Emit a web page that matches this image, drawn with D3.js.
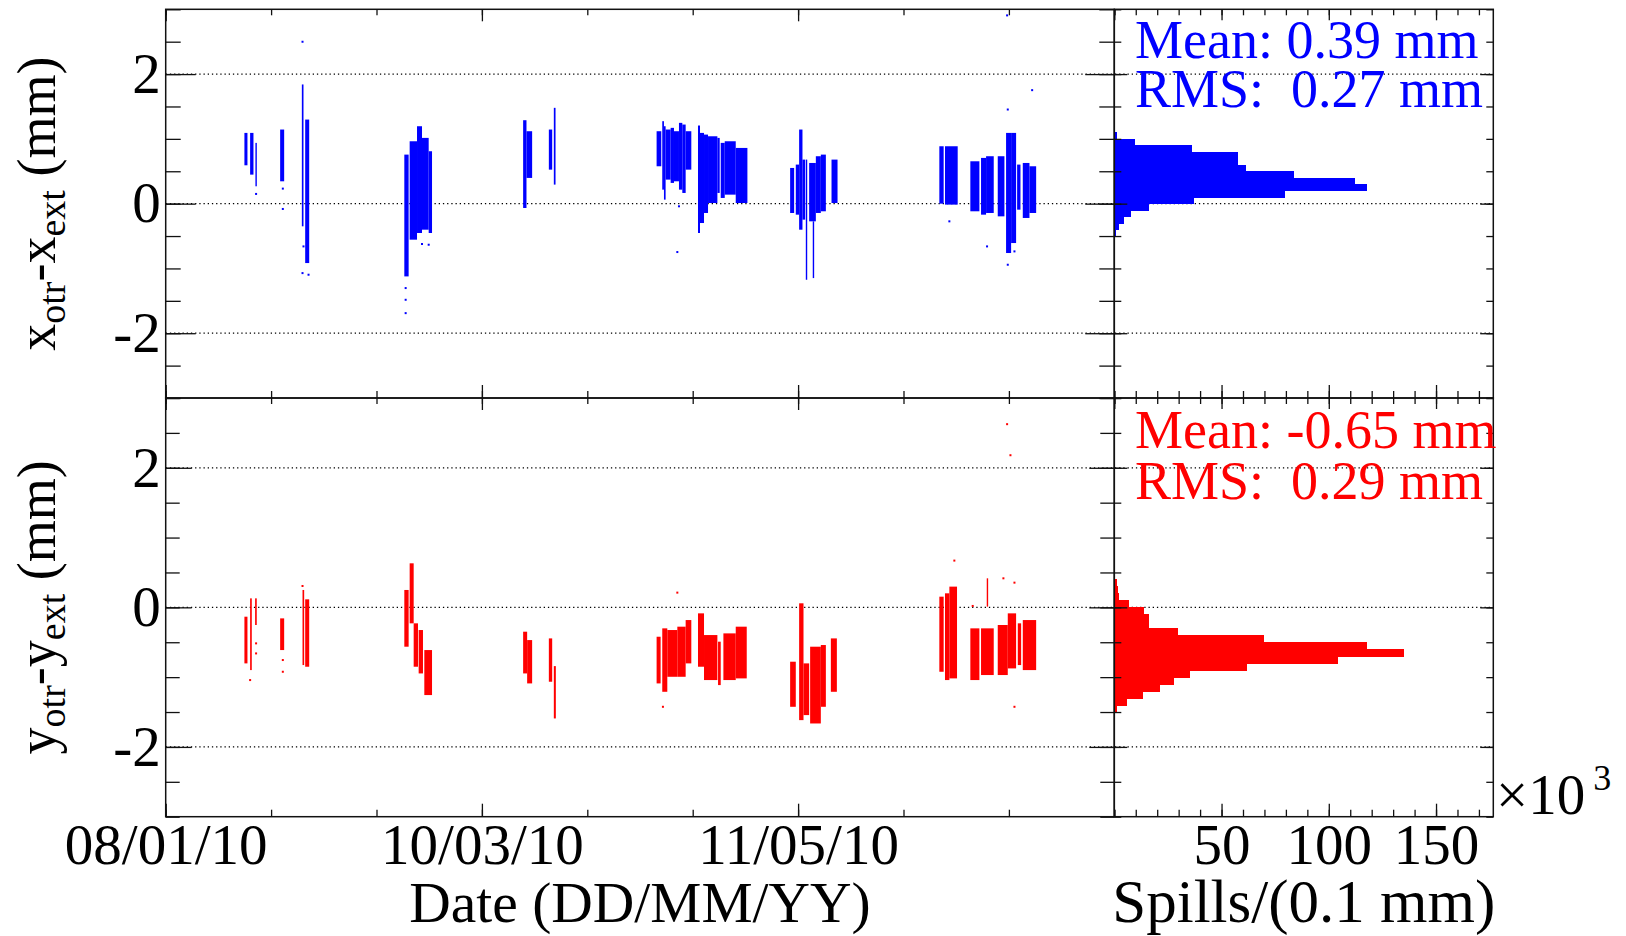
<!DOCTYPE html>
<html>
<head>
<meta charset="utf-8">
<script src="https://cdn.jsdelivr.net/npm/d3@7"></script>
<style>
  body { margin: 0; background: #fff; }
  text { font-family: "Liberation Serif", "Times New Roman", serif; }
</style>
</head>
<body>
<script>
// days are day-of-year 2010 (01/01/10 00:00 = 0), offsets in mm
// runs: [first day, last day, low, high]
var blueRuns = [
  [22.31, 22.90, 0.592, 1.092], [23.42, 24.07, 0.448, 1.092], [24.45, 24.71, 0.268, 0.938],
  [29.26, 30.04, 0.345, 1.144], [33.48, 33.80, -0.35, 1.84], [34.13, 34.91, -0.917, 1.298],
  [53.41, 54.25, -1.123, 0.757], [54.45, 55.88, -0.556, 0.963], [55.88, 56.85, -0.453, 1.195],
  [56.85, 58.15, -0.402, 1.015], [58.15, 58.80, -0.453, 0.809],
  [76.52, 77.17, -0.067, 1.288], [77.17, 78.27, 0.397, 1.118],
  [81.52, 82.17, 0.525, 1.144], [82.49, 82.82, 0.294, 1.479],
  [102.48, 103.39, 0.577, 1.118], [103.58, 103.91, 0.216, 1.273], [103.91, 104.23, 0.062, 1.195],
  [104.23, 105.21, 0.371, 1.144], [105.21, 105.86, 0.32, 1.17], [105.86, 106.83, 0.345, 1.118],
  [106.83, 107.48, 0.216, 1.247], [107.48, 108.13, 0.165, 1.221], [108.13, 109.23, 0.525, 1.118],
  [110.53, 110.92, -0.453, 1.206], [110.92, 111.70, -0.299, 1.092], [111.70, 112.48, -0.144, 1.066],
  [112.48, 114.30, 0.010, 1.04], [114.30, 114.75, 0.165, 1.015], [114.95, 115.73, 0.088, 0.938],
  [115.73, 117.87, 0.139, 0.963], [117.87, 120.14, 0.010, 0.86],
  [128.45, 129.23, -0.144, 0.551], [129.55, 130.20, -0.17, 0.603], [130.20, 130.85, -0.402, 1.144],
  [130.85, 131.37, -0.247, 0.68], [131.50, 131.70, -1.175, 0.68], [132.15, 133.45, -0.273, 0.628],
  [132.85, 133.05, -1.149, -0.273], [133.45, 134.42, -0.144, 0.732], [134.42, 135.40, -0.118, 0.757],
  [136.50, 137.67, 0.010, 0.68],
  [157.47, 158.31, 0.0, 0.886], [158.57, 161.04, -0.015, 0.886],
  [163.50, 165.26, -0.118, 0.654], [165.58, 166.56, -0.17, 0.706], [166.56, 168.05, -0.144, 0.732],
  [168.83, 170.13, -0.196, 0.732], [170.45, 171.43, -0.762, 1.092], [171.43, 172.40, -0.608, 1.092],
  [172.60, 173.25, -0.093, 0.603], [173.70, 175.00, -0.221, 0.628], [175.00, 176.30, -0.144, 0.577]
];
var bluePoints = [
  [33.61, 2.499], [24.58, 0.15], [29.78, 0.232], [29.78, -0.082], [34.78, -1.097], [33.61, -1.072],
  [33.80, -0.66], [53.67, -1.303], [53.67, -1.484], [53.67, -1.69], [58.15, -0.634], [56.85, -0.623],
  [106.51, -0.747], [106.83, -0.041], [175.52, 1.752], [166.75, -0.66], [170.65, 2.906],
  [170.78, 1.453], [170.78, -0.943], [172.08, -0.737], [159.42, -0.273]
];
var redRuns = [
  [22.31, 22.90, -0.803, -0.134], [23.42, 23.74, -0.899, 0.129], [24.39, 24.71, -0.253, 0.129],
  [29.26, 30.04, -0.612, -0.158], [33.61, 33.93, -0.827, 0.249], [34.13, 34.91, -0.851, 0.115],
  [53.41, 54.25, -0.564, 0.249], [54.45, 55.23, -0.229, 0.631], [55.23, 56.07, -0.851, -0.229],
  [56.20, 57.04, -0.947, -0.325], [57.30, 58.80, -1.257, -0.612],
  [76.52, 77.30, -0.947, -0.349], [77.30, 78.27, -1.09, -0.469],
  [81.52, 82.17, -1.066, -0.445], [82.49, 82.88, -1.592, -0.842],
  [102.48, 103.26, -1.09, -0.421], [103.58, 104.56, -1.21, -0.301], [104.56, 106.51, -0.995, -0.325],
  [106.51, 108.13, -0.995, -0.277], [108.13, 109.23, -0.803, -0.182],
  [110.53, 111.70, -0.851, -0.086], [111.70, 114.30, -1.042, -0.397], [114.43, 114.95, -1.114, -0.492],
  [115.47, 117.87, -1.042, -0.373], [117.87, 120.01, -1.018, -0.277],
  [128.45, 129.55, -1.425, -0.779], [130.20, 131.05, -1.616, 0.058], [131.05, 132.15, -1.544, -0.803],
  [132.34, 134.42, -1.664, -0.564], [134.42, 135.40, -1.425, -0.54], [136.37, 137.54, -1.21, -0.445],
  [157.47, 158.31, -0.923, 0.153], [158.57, 159.42, -1.042, 0.201], [159.42, 160.91, -1.018, 0.297],
  [163.50, 165.26, -1.042, -0.301], [165.58, 168.05, -0.97, -0.301], [166.69, 166.88, 0.01, 0.416],
  [168.83, 170.78, -0.97, -0.253], [170.78, 172.40, -0.875, -0.086], [172.73, 173.38, -0.827, -0.229],
  [173.70, 176.30, -0.899, -0.182]
];
var redPoints = [
  [106.51, 0.211], [103.71, -1.425], [160.39, 0.67], [170.65, 2.625], [171.30, 2.18],
  [172.08, -1.425], [169.93, 0.416], [172.08, 0.354], [163.96, 0.02], [23.42, -1.042],
  [24.58, -0.516], [24.58, -0.66], [29.78, -0.755], [29.78, -0.923], [33.61, 0.306]
];

// histograms, 0.1 mm bins: lower bin edge and spills (x10^3)
var xHistLow = [-0.5, -0.4, -0.3, -0.2, -0.1, 0.0, 0.1, 0.2, 0.3, 0.4, 0.5, 0.6, 0.7, 0.8, 0.9, 1.0];
var xHistCounts = [0.9, 2.0, 4.7, 7.8, 16.3, 37.0, 79.4, 117.7, 112.0, 83.6, 61.4, 57.9, 57.9, 36.2, 9.5, 1.2];
var yHistLow = [-1.5, -1.4, -1.3, -1.2, -1.1, -1.0, -0.9, -0.8, -0.7, -0.6, -0.5, -0.4, -0.3, -0.2, -0.1, 0.0, 0.1, 0.2, 0.3];
var yHistCounts = [1.2, 5.9, 13.4, 21.1, 27.8, 35.1, 61.8, 104.2, 135.1, 117.7, 69.6, 29.5, 16.0, 16.0, 13.7, 7.0, 2.2, 1.8, 1.2];

var dateTickDays = [7, 27.5, 48, 68.5, 89, 109.5, 130, 150.5, 171, 191.5];
var dateLabelDays = [7, 68.5, 130];
var statsX = ["Mean: 0.39 mm", "RMS:  0.27 mm"];
var statsY = ["Mean: -0.65 mm", "RMS:  0.29 mm"];

var svgWidth = 1626, svgHeight = 936;
var left = 165.7, mid = 1114.3, right = 1493.3;
var fs = 54, tickFs = 57;

var svg = d3.select("body").append("svg")
  .attr("width", svgWidth).attr("height", svgHeight)
  .style("background", "#fff");

var t0 = Date.UTC(2010, 0, 1);
function day(d) { return new Date(t0 + d * 864e5); }

var x = d3.scaleUtc().domain([day(7), day(191.5)]).range([left, mid]);
var xh = d3.scaleLinear().domain([0, 176.7]).range([mid, right]);
var fmt = d3.utcFormat("%d/%m/%y");

var panels = [
  { top: 9.3, bottom: 398, runs: blueRuns, points: bluePoints, color: "#0000ff",
    low: xHistLow, counts: xHistCounts, stats: statsX, statY: [58, 107],
    title: ["x", "otr", "-x", "ext"], labels: false, majorLen: 30, minorLen: 15 },
  { top: 398, bottom: 816.7, runs: redRuns, points: redPoints, color: "#ff0000",
    low: yHistLow, counts: yHistCounts, stats: statsY, statY: [448, 499],
    title: ["y", "otr", "-y", "ext"], labels: true, majorLen: 26, minorLen: 14 }
];

var minorY = d3.range(-3, 3.01, 0.5);
var majorY = [-2, 0, 2];

function styleAxis(g) {
  g.select(".domain").remove();
  g.selectAll("line").attr("stroke", "#111").attr("stroke-width", 1.3);
  g.selectAll("text").attr("font-size", tickFs).attr("fill", "#000")
    .attr("font-family", "'Liberation Serif', 'Times New Roman', serif");
}

panels.forEach(function(p, idx) {
  var y = d3.scaleLinear().domain([-3, 3]).range([p.bottom, p.top]);
  var clipId = "clip" + idx;
  svg.append("clipPath").attr("id", clipId).append("rect")
    .attr("x", left).attr("y", p.top).attr("width", mid - left).attr("height", p.bottom - p.top);

  // dotted grid at major y ticks
  svg.append("g").selectAll("line").data(majorY).join("line")
    .attr("x1", left).attr("x2", right)
    .attr("y1", d => y(d)).attr("y2", d => y(d))
    .attr("stroke", "#000").attr("stroke-width", 1.2)
    .attr("stroke-dasharray", "1.3,2.9");

  // scatter runs and isolated spills
  var sg = svg.append("g").attr("clip-path", "url(#" + clipId + ")");
  sg.selectAll("rect.run").data(p.runs).join("rect").attr("class", "run")
    .attr("x", d => x(day(d[0])))
    .attr("width", d => Math.max(1.4, x(day(d[1])) - x(day(d[0]))))
    .attr("y", d => y(d[3]))
    .attr("height", d => y(d[2]) - y(d[3]))
    .attr("fill", p.color);
  sg.selectAll("rect.pt").data(p.points).join("rect").attr("class", "pt")
    .attr("x", d => x(day(d[0])) - 1).attr("y", d => y(d[1]) - 1)
    .attr("width", 2).attr("height", 2).attr("fill", p.color);

  // histogram
  svg.append("g").attr("shape-rendering", "crispEdges")
    .selectAll("rect").data(p.counts).join("rect")
    .attr("x", xh(0))
    .attr("width", d => xh(d) - xh(0))
    .attr("y", (d, i) => y(p.low[i] + 0.1))
    .attr("height", (d, i) => y(p.low[i]) - y(p.low[i] + 0.1) + 0.6)
    .attr("fill", p.color);

  // frames
  [[left, mid], [mid, right]].forEach(function(r) {
    svg.append("rect").attr("x", r[0]).attr("y", p.top)
      .attr("width", r[1] - r[0]).attr("height", p.bottom - p.top)
      .attr("fill", "none").attr("stroke", "#111").attr("stroke-width", 1.5);
  });

  // scatter y axes (left with labels, right mirrored)
  svg.append("g").attr("transform", `translate(${left},0)`)
    .call(d3.axisLeft(y).tickValues(minorY).tickSizeInner(-p.minorLen).tickSizeOuter(0).tickFormat(""))
    .call(styleAxis);
  svg.append("g").attr("transform", `translate(${left},0)`)
    .call(d3.axisLeft(y).tickValues(majorY).tickSizeInner(-p.majorLen).tickSizeOuter(0).tickPadding(5)
      .tickFormat(d => String(d)))
    .call(styleAxis);
  svg.append("g").attr("transform", `translate(${mid},0)`)
    .call(d3.axisRight(y).tickValues(minorY).tickSizeInner(-p.minorLen).tickSizeOuter(0).tickFormat(""))
    .call(styleAxis);
  svg.append("g").attr("transform", `translate(${mid},0)`)
    .call(d3.axisRight(y).tickValues(majorY).tickSizeInner(-p.majorLen + 1).tickSizeOuter(0).tickFormat(""))
    .call(styleAxis);

  // histogram y axes
  svg.append("g").attr("transform", `translate(${mid},0)`)
    .call(d3.axisRight(y).tickValues(minorY).tickSizeInner(7).tickSizeOuter(0).tickFormat(""))
    .call(styleAxis);
  svg.append("g").attr("transform", `translate(${mid},0)`)
    .call(d3.axisRight(y).tickValues(majorY).tickSizeInner(13).tickSizeOuter(0).tickFormat(""))
    .call(styleAxis);
  svg.append("g").attr("transform", `translate(${right},0)`)
    .call(d3.axisLeft(y).tickValues(minorY).tickSizeInner(7).tickSizeOuter(0).tickFormat(""))
    .call(styleAxis);
  svg.append("g").attr("transform", `translate(${right},0)`)
    .call(d3.axisLeft(y).tickValues(majorY).tickSizeInner(13).tickSizeOuter(0).tickFormat(""))
    .call(styleAxis);

  // date axes, top and bottom of the panel
  var dates = dateTickDays.map(day);
  var labelled = dateLabelDays.map(day);
  svg.append("g").attr("transform", `translate(0,${p.top})`)
    .call(d3.axisTop(x).tickValues(dates).tickSizeInner(-6).tickSizeOuter(0).tickFormat(""))
    .call(styleAxis);
  svg.append("g").attr("transform", `translate(0,${p.top})`)
    .call(d3.axisTop(x).tickValues(labelled).tickSizeInner(-12).tickSizeOuter(0).tickFormat(""))
    .call(styleAxis);
  svg.append("g").attr("transform", `translate(0,${p.bottom})`)
    .call(d3.axisBottom(x).tickValues(dates).tickSizeInner(-7).tickSizeOuter(0).tickFormat(""))
    .call(styleAxis);
  svg.append("g").attr("transform", `translate(0,${p.bottom})`)
    .call(d3.axisBottom(x).tickValues(labelled).tickSizeInner(-13).tickSizeOuter(0).tickPadding(7)
      .tickFormat(p.labels ? fmt : ""))
    .call(styleAxis);

  // spill axes
  var hMinor = d3.range(0, 176, 10);
  var hMajor = [0, 50, 100, 150];
  svg.append("g").attr("transform", `translate(0,${p.top})`)
    .call(d3.axisTop(xh).tickValues(hMinor).tickSizeInner(-6).tickSizeOuter(0).tickFormat(""))
    .call(styleAxis);
  svg.append("g").attr("transform", `translate(0,${p.top})`)
    .call(d3.axisTop(xh).tickValues(hMajor).tickSizeInner(-11).tickSizeOuter(0).tickFormat(""))
    .call(styleAxis);
  svg.append("g").attr("transform", `translate(0,${p.bottom})`)
    .call(d3.axisBottom(xh).tickValues(hMinor).tickSizeInner(-7).tickSizeOuter(0).tickFormat(""))
    .call(styleAxis);
  svg.append("g").attr("transform", `translate(0,${p.bottom})`)
    .call(d3.axisBottom(xh).tickValues(hMajor.slice(1)).tickSizeInner(-13).tickSizeOuter(0).tickPadding(7)
      .tickFormat(p.labels ? d3.format("d") : ""))
    .call(styleAxis);

  // y title
  var yt = svg.append("text")
    .attr("transform", `translate(55,${(p.top + p.bottom) / 2}) rotate(-90)`)
    .attr("text-anchor", "middle").attr("font-size", fs);
  yt.append("tspan").text(p.title[0]);
  yt.append("tspan").attr("font-size", 38).attr("dy", 10).text(p.title[1]);
  yt.append("tspan").attr("dy", -10).text(p.title[2]);
  yt.append("tspan").attr("font-size", 38).attr("dy", 10).text(p.title[3]);
  yt.append("tspan").attr("dy", -10).text(" (mm)");

  // statistics
  svg.append("g").selectAll("text").data(p.stats).join("text")
    .attr("x", 1135).attr("y", (d, i) => p.statY[i])
    .attr("font-size", fs).attr("fill", p.color)
    .style("white-space", "pre")
    .text(d => d);
});

// axis titles
svg.append("text").attr("x", (left + mid) / 2).attr("y", 922)
  .attr("text-anchor", "middle").attr("font-size", 57.5).text("Date (DD/MM/YY)");
svg.append("text").attr("x", (mid + right) / 2).attr("y", 922)
  .attr("text-anchor", "middle").attr("font-size", 61).text("Spills/(0.1 mm)");
var ex = svg.append("text").attr("x", 1496).attr("y", 814).attr("font-size", 57);
ex.append("tspan").text("\u00d710");
ex.append("tspan").attr("font-size", 36).attr("dx", 8).attr("dy", -24).text("3");
</script>
</body>
</html>
